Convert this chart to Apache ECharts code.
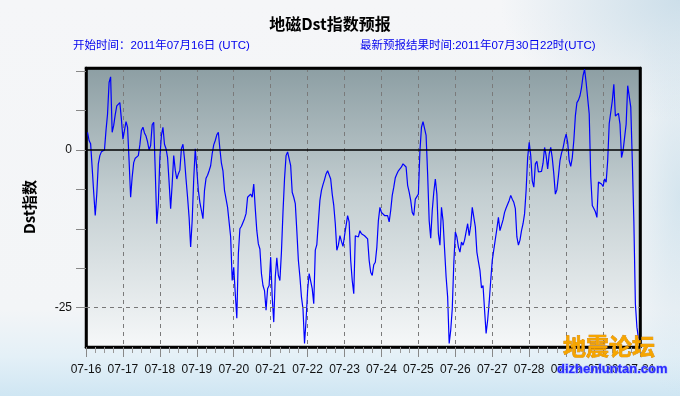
<!DOCTYPE html>
<html>
<head>
<meta charset="utf-8">
<script src="https://cdn.jsdelivr.net/npm/echarts@6/dist/echarts.min.js"></script>
<style>
html,body{margin:0;padding:0;}
#c{width:680px;height:396px;
background:
 radial-gradient(ellipse 180px 120px at 100% 0%, rgba(200,220,232,0.9) 0%, rgba(220,232,240,0) 100%),
 radial-gradient(ellipse 60px 200px at 100% 50%, rgba(205,225,236,0.8) 0%, rgba(220,232,240,0) 100%),
 linear-gradient(to bottom, #f5f6f8 0%, #f3f5f7 78%, #e4f0f7 90%, #cfe6f3 100%);
}
</style>
</head>
<body>
<div id="c"></div>
<script>
// ---- data ----
const dateLabels = ['07-16','07-17','07-18','07-19','07-20','07-21','07-22','07-23',
                    '07-24','07-25','07-26','07-27','07-28','07-29','07-30','07-31'];
const startHour = 1;           // first hourly value is at 07-16 01h (UTC)
const dstValues = [
  // 07-16
  2.8,1.5,1.0,-2.8,-6.7,-10.4,-7.0,-2.2,-0.9,-0.3,-0.5,0,3.1,5.7,10.7,11.6,2.8,3.9,5.6,7.0,7.0,7.5,4.9,
  // 07-17
  1.7,3.1,4.5,3.6,-1.7,-7.5,-4.3,-2.0,-1.3,-1.4,-0.9,0.8,3.1,3.6,2.7,2.2,1.3,0,0.7,4.0,4.4,-3.3,-11.7,-8.5,
  // 07-18
  -1.2,2.3,3.6,0.9,0.2,-1.2,-5.1,-9.3,-5.4,-0.9,-3.2,-4.6,-3.8,-3.2,0.2,0.9,-1.4,-4.6,-7.5,-10.7,-15.4,-11.2,-4.6,0.2,
  // 07-19
  -0.1,-6.4,-8.3,-9.6,-10.9,-6.4,-4.5,-4.0,-3.3,-2.5,-0.6,0.8,1.5,2.4,2.8,0.2,-2.1,-3.3,-6.4,-6.6,-9.1,-9.3,-13.8,-20.7,
  // 07-20
  -18.6,-22.8,-26.7,-16.5,-12.5,-12.1,-12.0,-10.9,-10.1,-7.5,-7.2,-7.0,-7.5,-5.4,-9.3,-12.8,-14.9,-15.7,-19.6,-21.5,-22.3,-25.4,-22.0,-21.5,
  // 07-21
  -17.0,-23.3,-27.3,-20.1,-17.1,-19.9,-20.7,-16.2,-9.9,-4.6,-0.9,-0.3,-0.4,-2.5,-6.7,-7.5,-8.5,-12.8,-17.5,-20.1,-23.3,-25.2,-30.7,-27.0,
  // 07-22
  -22.3,-19.6,-19.6,-22.0,-24.4,-15.9,-15.0,-11.4,-8.0,-6.4,-5.5,-4.7,-3.8,-3.3,-3.5,-4.6,-7.0,-8.8,-11.7,-15.9,-15.1,-13.6,-14.5,-15.3,
  // 07-23
  -13.6,-12.0,-10.4,-11.4,-17.5,-20.7,-22.8,-13.6,-13.8,-13.8,-12.8,-13.3,-13.6,-13.6,-13.6,-14.1,-17.5,-19.4,-19.9,-18.2,-17.8,-15.4,-11.2,-9.1,
  // 07-24
  -9.9,-9.6,-10.4,-10.2,-10.4,-11.4,-9.6,-7.2,-5.9,-4.4,-3.8,-3.3,-3.0,-2.7,-2.2,-2.2,-2.7,-5.6,-6.7,-8.0,-9.9,-10.4,-7.8,-8.0,
  // 07-25
  -7.0,-0.1,3.6,4.5,4.4,2.3,-3.8,-11.2,-14.0,-9.6,-6.7,-4.6,-7.0,-13.3,-15.1,-9.1,-11.2,-15.7,-20.1,-23.3,-30.7,-28.6,-25.2,-18.0,
  // 07-26
  -13.0,-13.8,-15.4,-16.2,-14.6,-15.1,-14.3,-13.0,-11.7,-13.6,-12.0,-9.1,-8.8,-12.2,-16.2,-17.7,-19.1,-21.9,-21.5,-25.4,-29.1,-27.0,-24.1,-20.7,
  // 07-27
  -17.5,-15.8,-15.7,-12.5,-10.7,-12.8,-13.0,-11.1,-9.9,-9.2,-8.6,-8.0,-7.2,-7.8,-8.3,-9.3,-13.8,-15.1,-14.3,-12.8,-11.7,-10.1,-6.4,-1.2,
  // 07-28
  1.2,-0.9,-4.9,-5.9,-2.2,-1.8,-3.5,-3.8,-3.4,-2.1,0.4,-0.9,-3.0,-0.6,0.4,-1.3,-3.8,-7.0,-6.3,-4.1,-1.7,-0.5,0.3,1.6,
  // 07-29
  2.5,1.2,-1.7,-2.6,-1.2,1.5,5.4,7.5,7.9,8.6,9.9,11.8,12.8,10.7,10.7,5.7,-4.3,-8.8,-9.3,-9.8,-10.7,-5.1,-5.0,-5.4,
  // 07-30
  -5.8,-4.6,-5.1,-1.7,4.2,4.1,7.8,10.4,5.4,5.2,5.8,4.1,-1.2,-0.1,0,4.1,10.2,10.2,6.8,-1.7,-11.2,-24.4,-28.1,-29.9
];
const yTickValues = [-25, -18.75, -12.5, -6.25, 0, 6.25, 12.5];
const yLabelValues = [0, -25];
const refLines = [0, -25];

const titleText = '地磁Dst指数预报';
const startText = '开始时间：2011年07月16日 (UTC)';
const latestText = '最新预报结果时间:2011年07月30日22时(UTC)';
const yName = 'Dst指数';

// ---- chart ----
const chart = echarts.init(document.getElementById('c'), null, {renderer: 'canvas'});
const seriesData = dstValues.map((v, i) => [startHour + i, v]);
const txtFont = '"Liberation Sans", Arial, "Noto Sans CJK SC", sans-serif';
const frameLine = {show: true, onZero: false, lineStyle: {color: '#000', width: 2.5}};

chart.setOption({
  animation: false,
  backgroundColor: 'transparent',
  grid: {
    left: 86, right: 40, top: 68, bottom: 49,
    show: true,
    borderColor: '#000', borderWidth: 2.5,
    backgroundColor: {
      type: 'linear', x: 0, y: 0, x2: 0, y2: 1,
      colorStops: [
        {offset: 0, color: '#8c9ea3'},
        {offset: 0.45, color: '#c3ced1'},
        {offset: 1, color: '#f6f8f9'}
      ]
    }
  },
  xAxis: [{
    type: 'value', min: 0, max: 360, interval: 24, position: 'bottom',
    axisLine: frameLine,
    axisTick: {show: true, length: 10, lineStyle: {color: '#888', width: 1}},
    minorTick: {show: true, splitNumber: 4, length: 6, lineStyle: {color: '#999', width: 1}},
    axisLabel: {
      margin: 17, color: '#111', fontSize: 12, fontFamily: txtFont,
      formatter: v => dateLabels[Math.round(v / 24)] || ''
    },
    splitLine: {show: true, showMinLine: false, showMaxLine: false,
                lineStyle: {color: '#7a7a7a', type: [4, 4], width: 1}}
  }, {
    type: 'value', min: 0, max: 360, position: 'top',
    axisLine: frameLine,
    axisTick: {show: false}, axisLabel: {show: false}, splitLine: {show: false}
  }],
  yAxis: [{
    type: 'value', min: -31.25, max: 13, interval: 6.25, position: 'left',
    axisLine: frameLine,
    axisTick: {show: true, length: 10, customValues: yTickValues, lineStyle: {color: '#888', width: 1}},
    axisLabel: {
      margin: 14, color: '#111', fontSize: 12, fontFamily: txtFont,
      customValues: yLabelValues,
      formatter: v => (yLabelValues.indexOf(v) >= 0 ? String(v) : '')
    },
    splitLine: {show: false}
  }, {
    type: 'value', min: -31.25, max: 13, position: 'right',
    axisLine: frameLine,
    axisTick: {show: false}, axisLabel: {show: false}, splitLine: {show: false}
  }],
  series: [
    {
      type: 'line', data: [], z: 1, silent: true,
      markLine: {
        symbol: 'none', silent: true, label: {show: false}, animation: false,
        data: [
          {yAxis: refLines[0], lineStyle: {color: '#000', width: 1.5, type: 'solid'}},
          {yAxis: refLines[1], lineStyle: {color: '#777', width: 1, type: [4, 4]}}
        ]
      }
    },
    {
      type: 'line', data: seriesData, z: 3,
      showSymbol: false, symbol: 'none',
      lineStyle: {color: '#0000ff', width: 1.2},
      silent: true
    }
  ],
  graphic: [
    {type: 'text', x: 330, y: 24, z: 10,
     style: {text: titleText, font: 'bold 16px "Noto Sans CJK SC", sans-serif', fill: '#000',
             textAlign: 'center', textVerticalAlign: 'middle'}},
    {type: 'text', x: 73, y: 46, z: 10,
     style: {text: startText, font: '11.5px ' + txtFont, fill: '#0000ee',
             textAlign: 'left', textVerticalAlign: 'middle'}},
    {type: 'text', x: 360, y: 46, z: 10,
     style: {text: latestText, font: '11.5px ' + txtFont, fill: '#0000ee',
             textAlign: 'left', textVerticalAlign: 'middle'}},
    {type: 'text', x: 29, y: 207, rotation: Math.PI / 2, z: 10,
     style: {text: yName, font: 'bold 15px "Noto Sans CJK SC", sans-serif', fill: '#000',
             textAlign: 'center', textVerticalAlign: 'middle'}},
    {type: 'text', x: 563, y: 346, z: 20,
     style: {text: '地震论坛', font: 'bold 23px "Noto Sans CJK SC", sans-serif', fill: '#f6a500',
             stroke: '#c97a00', lineWidth: 0.6, textAlign: 'left', textVerticalAlign: 'middle'}},
    {type: 'text', x: 557, y: 369, z: 20,
     style: {text: 'dizhenluntan.com', font: 'bold 13px "Liberation Sans", Arial, sans-serif', fill: '#2a2aff',
             stroke: '#9aa8ff', lineWidth: 1, textAlign: 'left', textVerticalAlign: 'middle'}}
  ]
});
</script>
</body>
</html>
